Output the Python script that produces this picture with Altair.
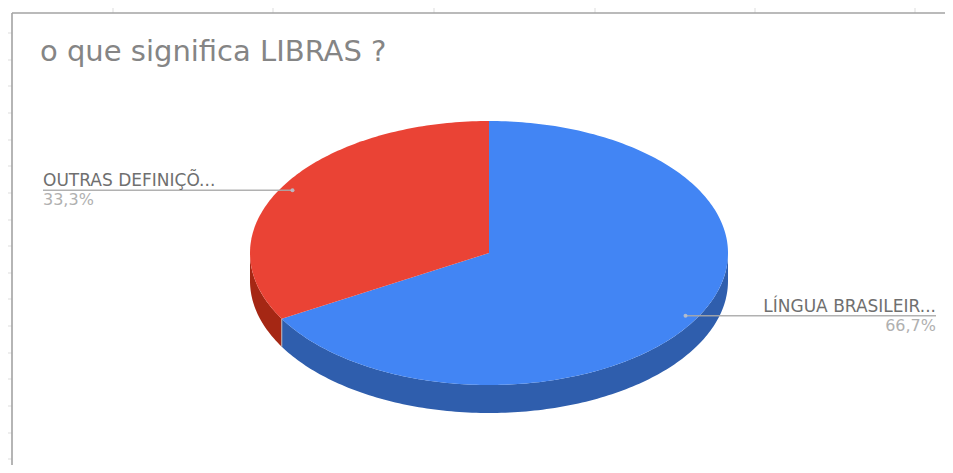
import math
import altair as alt
import pandas as pd

# Chart content
TITLE = "o que significa LIBRAS ?"
labels = ["LÍNGUA BRASILEIR...", "OUTRAS DEFINIÇÕ..."]
shares = [66.7, 33.3]
pct_labels = ["66,7%", "33,3%"]
top_colors = ["#4285f4", "#ea4335"]
side_colors = ["#2f5ead", "#a52714"]

# Pie geometry, in page pixels
CX, CY, RX, RY, DEPTH = 489, 253, 239, 132, 28
FONT = "DejaVu Sans"


def pos(t, k=1.0, dy=0.0):
    a = math.radians(t)
    return CX + RX * k * math.sin(a), CY - RY * k * math.cos(a) + dy


# Slice angles from the shares (clockwise from 12 o'clock)
starts, ends, acc = [], [], 0.0
for s in shares:
    starts.append(acc * 360 / sum(shares))
    acc += s
    ends.append(acc * 360 / sum(shares))

top_rows, side_rows = [], []
for name, a0, a1, tc, sc in zip(labels, starts, ends, top_colors, side_colors):
    n = max(2, int(a1 - a0))
    arc = [a0 + (a1 - a0) * i / n for i in range(n + 1)]
    pts = [(CX, CY)] + [pos(t) for t in arc]
    for i, (x, y) in enumerate(pts):
        top_rows.append({"s": name, "x": x, "y": y, "o": i, "c": tc})
    # Visible outer wall: the part of the rim on the front half (90..270 deg)
    lo, hi = max(a0, 90), min(a1, 270)
    if hi > lo:
        m = max(2, int(hi - lo))
        w = [lo + (hi - lo) * i / m for i in range(m + 1)]
        wall = [pos(t) for t in w] + [pos(t, dy=DEPTH) for t in reversed(w)]
        for i, (x, y) in enumerate(wall):
            side_rows.append({"s": name, "x": x, "y": y, "o": i, "c": sc})

top_df = pd.DataFrame(top_rows)
side_df = pd.DataFrame(side_rows)

XS = alt.Scale(domain=[8, 945], range=[0, 937])
YS = alt.Scale(domain=[8, 465], range=[0, 457])
X = alt.X("x:Q", axis=None, scale=XS)
Y = alt.Y("y:Q", axis=None, scale=YS)
YP = alt.Y("yp:Q", axis=None, scale=YS)


def poly(df):
    return alt.Chart(df).mark_line(filled=True, interpolate="linear-closed", strokeWidth=0).encode(
        x=X, y=Y, detail="s:N", order="o:Q", color=alt.Color("c:N", scale=None)
    )


# Spreadsheet frame and grid stubs behind the chart
frame_h = alt.Chart(pd.DataFrame({"x": [12], "x2": [945], "y": [13]})).mark_rule(
    color="#a3a3a3", strokeWidth=1.6).encode(x=X, x2="x2:Q", y=Y)
frame_v = alt.Chart(pd.DataFrame({"x": [12], "y": [13], "y2": [465]})).mark_rule(
    color="#a3a3a3", strokeWidth=1.6).encode(x=X, y=Y, y2="y2:Q")

stub_x = [113, 273, 434, 595, 755, 915]
stub_y = [33, 60, 86, 113, 140, 166, 193, 220, 246, 273, 299, 326, 353, 379, 406, 433, 459]
stubs_top = alt.Chart(pd.DataFrame({"x": stub_x, "y": [8] * 6, "y2": [13] * 6})).mark_rule(
    color="#dddddd", strokeWidth=1).encode(x=X, y=Y, y2="y2:Q")
stubs_left = alt.Chart(pd.DataFrame({"y": stub_y, "x": [8] * 17, "x2": [12] * 17})).mark_rule(
    color="#dddddd", strokeWidth=1).encode(x=X, x2="x2:Q", y=Y)

# Seam between the two walls
sx, sy = pos(ends[0])
seam = alt.Chart(pd.DataFrame({"x": [sx], "y": [sy], "y2": [sy + DEPTH]})).mark_rule(
    color="#b9b9c4", strokeWidth=1).encode(x=X, y=Y, y2="y2:Q")

# Leader lines from the slice midpoints
mids = [(a + b) / 2 for a, b in zip(starts, ends)]
anchors = [pos(m, k=0.95) for m in mids]
leader_df = pd.DataFrame({
    "x": [a[0] for a in anchors], "y": [a[1] for a in anchors], "x2": [936, 43],
})
leaders = alt.Chart(leader_df).mark_rule(color="#a8a8a8", strokeWidth=1.4, opacity=0.9).encode(x=X, x2="x2:Q", y=Y)
dots = alt.Chart(leader_df).mark_point(filled=True, size=16, color="#b9c0cc", opacity=0.9).encode(x=X, y=Y)

label_df = pd.DataFrame({
    "x": [936, 43], "y": [anchors[0][1] - 4, anchors[1][1] - 4], "t": labels,
    "yp": [anchors[0][1] + 15, anchors[1][1] + 15], "p": pct_labels,
    "a": ["right", "left"],
})
lab_r = alt.Chart(label_df[label_df.a == "right"]).mark_text(
    align="right", baseline="alphabetic", font=FONT, fontSize=17, color="#6f6f6f").encode(x=X, y=Y, text="t:N")
lab_l = alt.Chart(label_df[label_df.a == "left"]).mark_text(
    align="left", baseline="alphabetic", font=FONT, fontSize=17, color="#6f6f6f").encode(x=X, y=Y, text="t:N")
pct_r = alt.Chart(label_df[label_df.a == "right"]).mark_text(
    align="right", baseline="alphabetic", font=FONT, fontSize=16, color="#b0b0b0").encode(x=X, y=YP, text="p:N")
pct_l = alt.Chart(label_df[label_df.a == "left"]).mark_text(
    align="left", baseline="alphabetic", font=FONT, fontSize=16, color="#b0b0b0").encode(x=X, y=YP, text="p:N")

title = alt.Chart(pd.DataFrame({"x": [40], "y": [52], "t": [TITLE]})).mark_text(
    align="left", baseline="middle", font=FONT, fontSize=29, color="#858585").encode(x=X, y=Y, text="t:N")

chart = alt.layer(
    stubs_top, stubs_left, frame_h, frame_v, poly(side_df), seam, poly(top_df),
    leaders, dots, lab_r, lab_l, pct_r, pct_l, title,
).properties(
    width=937, height=457, padding=0, autosize=alt.AutoSizeParams(type="none"), background="white"
).configure_view(stroke=None)

chart.save("out.html", embed_options={"renderer": "svg", "actions": False})
